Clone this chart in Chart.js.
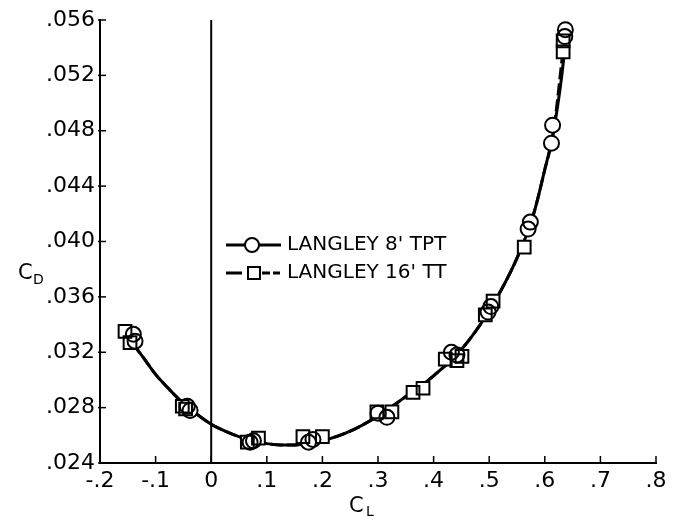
<!DOCTYPE html>
<html><head><meta charset="utf-8">
<script src="https://cdn.jsdelivr.net/npm/chart.js@4/dist/chart.umd.min.js"></script>
<style>html,body{margin:0;padding:0;background:#fff}canvas{display:block}</style>
</head><body>
<canvas id="c" width="675" height="523"></canvas>
<script>
// ---- data ----
const tptCL = [-0.140, -0.137, -0.043, -0.038, 0.070, 0.076, 0.175, 0.183, 0.300, 0.316, 0.432, 0.442, 0.498, 0.503, 0.570, 0.574, 0.612, 0.614, 0.636, 0.637];
const tptCD = [0.0333, 0.0328, 0.0281, 0.0278, 0.0255, 0.0256, 0.0255, 0.0257, 0.0276, 0.0273, 0.0320, 0.0318, 0.0349, 0.0353, 0.0409, 0.0414, 0.0471, 0.0484, 0.0548, 0.0553];
const ttCL = [-0.155, -0.146, -0.052, -0.046, 0.065, 0.085, 0.165, 0.200, 0.298, 0.325, 0.363, 0.381, 0.421, 0.442, 0.451, 0.493, 0.507, 0.563, 0.633, 0.633];
const ttCD = [0.0335, 0.0327, 0.0281, 0.0279, 0.0255, 0.0258, 0.0259, 0.0259, 0.0277, 0.0277, 0.0291, 0.0294, 0.0315, 0.0314, 0.0317, 0.0347, 0.0357, 0.0396, 0.0537, 0.0545];
const fairCL = [-0.155, -0.14, -0.12, -0.10, -0.075, -0.05, -0.025, 0, 0.025, 0.05, 0.075, 0.10, 0.125, 0.15, 0.175, 0.20, 0.25, 0.30, 0.35, 0.40, 0.45, 0.50, 0.55, 0.58, 0.60, 0.615, 0.63, 0.64];
const fairCD = [0.0336, 0.0326, 0.0315, 0.0304, 0.0293, 0.0283, 0.0275, 0.0268, 0.0263, 0.0259, 0.0256, 0.0254, 0.0253, 0.0253, 0.0254, 0.0256, 0.0263, 0.0274, 0.0288, 0.0303, 0.0322, 0.0350, 0.0388, 0.0420, 0.0452, 0.0478, 0.0518, 0.0555];
const fairTTCL = [-0.155, -0.14, -0.12, -0.10, -0.075, -0.05, -0.025, 0, 0.025, 0.05, 0.075, 0.10, 0.125, 0.15, 0.175, 0.20, 0.25, 0.30, 0.35, 0.40, 0.45, 0.50, 0.55, 0.58, 0.60, 0.615, 0.635];
const fairTTCD = [0.0336, 0.0326, 0.0315, 0.0304, 0.0293, 0.0283, 0.0275, 0.0268, 0.0263, 0.0259, 0.0256, 0.0254, 0.0253, 0.0253, 0.0254, 0.0256, 0.0263, 0.0274, 0.0288, 0.0303, 0.0322, 0.0350, 0.0388, 0.0420, 0.0452, 0.0478, 0.0546];
const zeroCL = [0, 0];
const zeroCD = [0.024, 0.056];
const xMin = -0.2, xMax = 0.8, xStep = 0.1;
const yMin = 0.024, yMax = 0.056, yStep = 0.004;
const seriesNames = ["LANGLEY 8' TPT", "LANGLEY 16' TT"];
const xTitle = ["C", "L"];
const yTitle = ["C", "D"];

const pts = (xs, ys) => xs.map((x, i) => ({x, y: ys[i]}));
const FONT = "'DejaVu Sans'";

const fmtX = v => {
  const r = Math.round(v * 10) / 10;
  if (r === 0) return "0";
  return r.toFixed(1).replace("0.", ".");
};
const fmtY = v => v.toFixed(3).replace("0.", ".");

const extras = {
  id: 'extras',
  afterDraw(chart) {
    const ctx = chart.ctx;
    const xs = chart.scales.x, ys = chart.scales.y;
    const a = chart.chartArea;
    ctx.save();
    ctx.strokeStyle = '#000';
    ctx.lineWidth = 1.5;
    // inward tick marks
    xs.ticks.forEach(t => {
      const px = xs.getPixelForValue(t.value);
      ctx.beginPath(); ctx.moveTo(px, a.bottom); ctx.lineTo(px, a.bottom - 7); ctx.stroke();
    });
    ys.ticks.forEach(t => {
      const py = ys.getPixelForValue(t.value);
      ctx.beginPath(); ctx.moveTo(a.left - 2, py); ctx.lineTo(a.left + 6, py); ctx.stroke();
    });
    // axis titles with subscripts
    ctx.fillStyle = '#000';
    ctx.textBaseline = 'alphabetic';
    ctx.font = "21px " + FONT;
    ctx.fillText(yTitle[0], 18, 279);
    ctx.font = "14px " + FONT;
    ctx.fillText(yTitle[1], 33, 284);
    ctx.font = "21px " + FONT;
    ctx.fillText(xTitle[0], 349, 512);
    ctx.font = "14px " + FONT;
    ctx.fillText(xTitle[1], 366, 516);
    // legend
    ctx.lineWidth = 3;
    ctx.beginPath(); ctx.moveTo(226, 245); ctx.lineTo(245, 245); ctx.moveTo(259, 245); ctx.lineTo(281, 245); ctx.stroke();
    ctx.lineWidth = 2;
    ctx.beginPath(); ctx.arc(252, 245, 7, 0, Math.PI * 2); ctx.stroke();
    ctx.lineWidth = 3;
    ctx.beginPath(); ctx.moveTo(226, 273); ctx.lineTo(242, 273); ctx.moveTo(262, 273); ctx.lineTo(270, 273); ctx.moveTo(273, 273); ctx.lineTo(280, 273); ctx.stroke();
    ctx.lineWidth = 2;
    ctx.strokeRect(248, 267, 12, 12);
    ctx.font = "20px " + FONT;
    ctx.textBaseline = 'middle';
    ctx.fillText(seriesNames[0], 287, 245);
    ctx.fillText(seriesNames[1], 287, 273);
    ctx.restore();
  }
};

const markerCommon = {showLine: false, borderColor: '#000', borderWidth: 2, pointHoverRadius: 0};

new Chart(document.getElementById('c'), {
  type: 'scatter',
  data: {
    datasets: [
      {label: 'zero', data: pts(zeroCL, zeroCD), showLine: true, borderColor: '#000', borderWidth: 2, pointRadius: 0, order: 5},
      {label: 'fair TPT', data: pts(fairCL, fairCD), showLine: true, borderColor: '#000', borderWidth: 3, pointRadius: 0, cubicInterpolationMode: 'monotone', order: 4},
      {label: 'fair TT', data: pts(fairTTCL, fairTTCD), showLine: true, borderColor: '#000', borderWidth: 3, borderDash: [12, 4], pointRadius: 0, cubicInterpolationMode: 'monotone', order: 4},
      {label: 'fillTPT', data: pts(tptCL, tptCD), showLine: false, pointStyle: 'circle', pointRadius: 7.5, backgroundColor: '#fff', borderWidth: 0, order: 3},
      {label: 'fillTT', data: pts(ttCL, ttCD), showLine: false, pointStyle: 'rect', pointRadius: 9, backgroundColor: '#fff', borderWidth: 0, order: 3},
      Object.assign({label: seriesNames[0], data: pts(tptCL, tptCD), pointStyle: 'circle', pointRadius: 7.5, backgroundColor: 'rgba(0,0,0,0)', order: 1}, markerCommon),
      Object.assign({label: seriesNames[1], data: pts(ttCL, ttCD), pointStyle: 'rect', pointRadius: 9, backgroundColor: 'rgba(0,0,0,0)', order: 1}, markerCommon)
    ]
  },
  options: {
    responsive: false,
    animation: false,
    devicePixelRatio: 1,
    events: [],
    layout: {padding: {top: 20, right: 19, left: 0, bottom: 0}},
    plugins: {legend: {display: false}, tooltip: {enabled: false}},
    scales: {
      x: {
        type: 'linear', min: xMin, max: xMax,
        grid: {display: false, drawTicks: false},
        border: {display: true, color: '#000', width: 2},
        ticks: {stepSize: xStep, color: '#000', font: {family: FONT, size: 22}, padding: 5, maxRotation: 0, callback: fmtX},
        afterFit: s => { s.height = 60; }
      },
      y: {
        type: 'linear', min: yMin, max: yMax,
        grid: {display: false, drawTicks: false},
        border: {display: true, color: '#000', width: 2},
        ticks: {stepSize: yStep, color: '#000', font: {family: FONT, size: 22}, padding: 5, callback: fmtY},
        afterFit: s => { s.width = 100; }
      }
    }
  },
  plugins: [extras]
});
</script>
</body></html>
